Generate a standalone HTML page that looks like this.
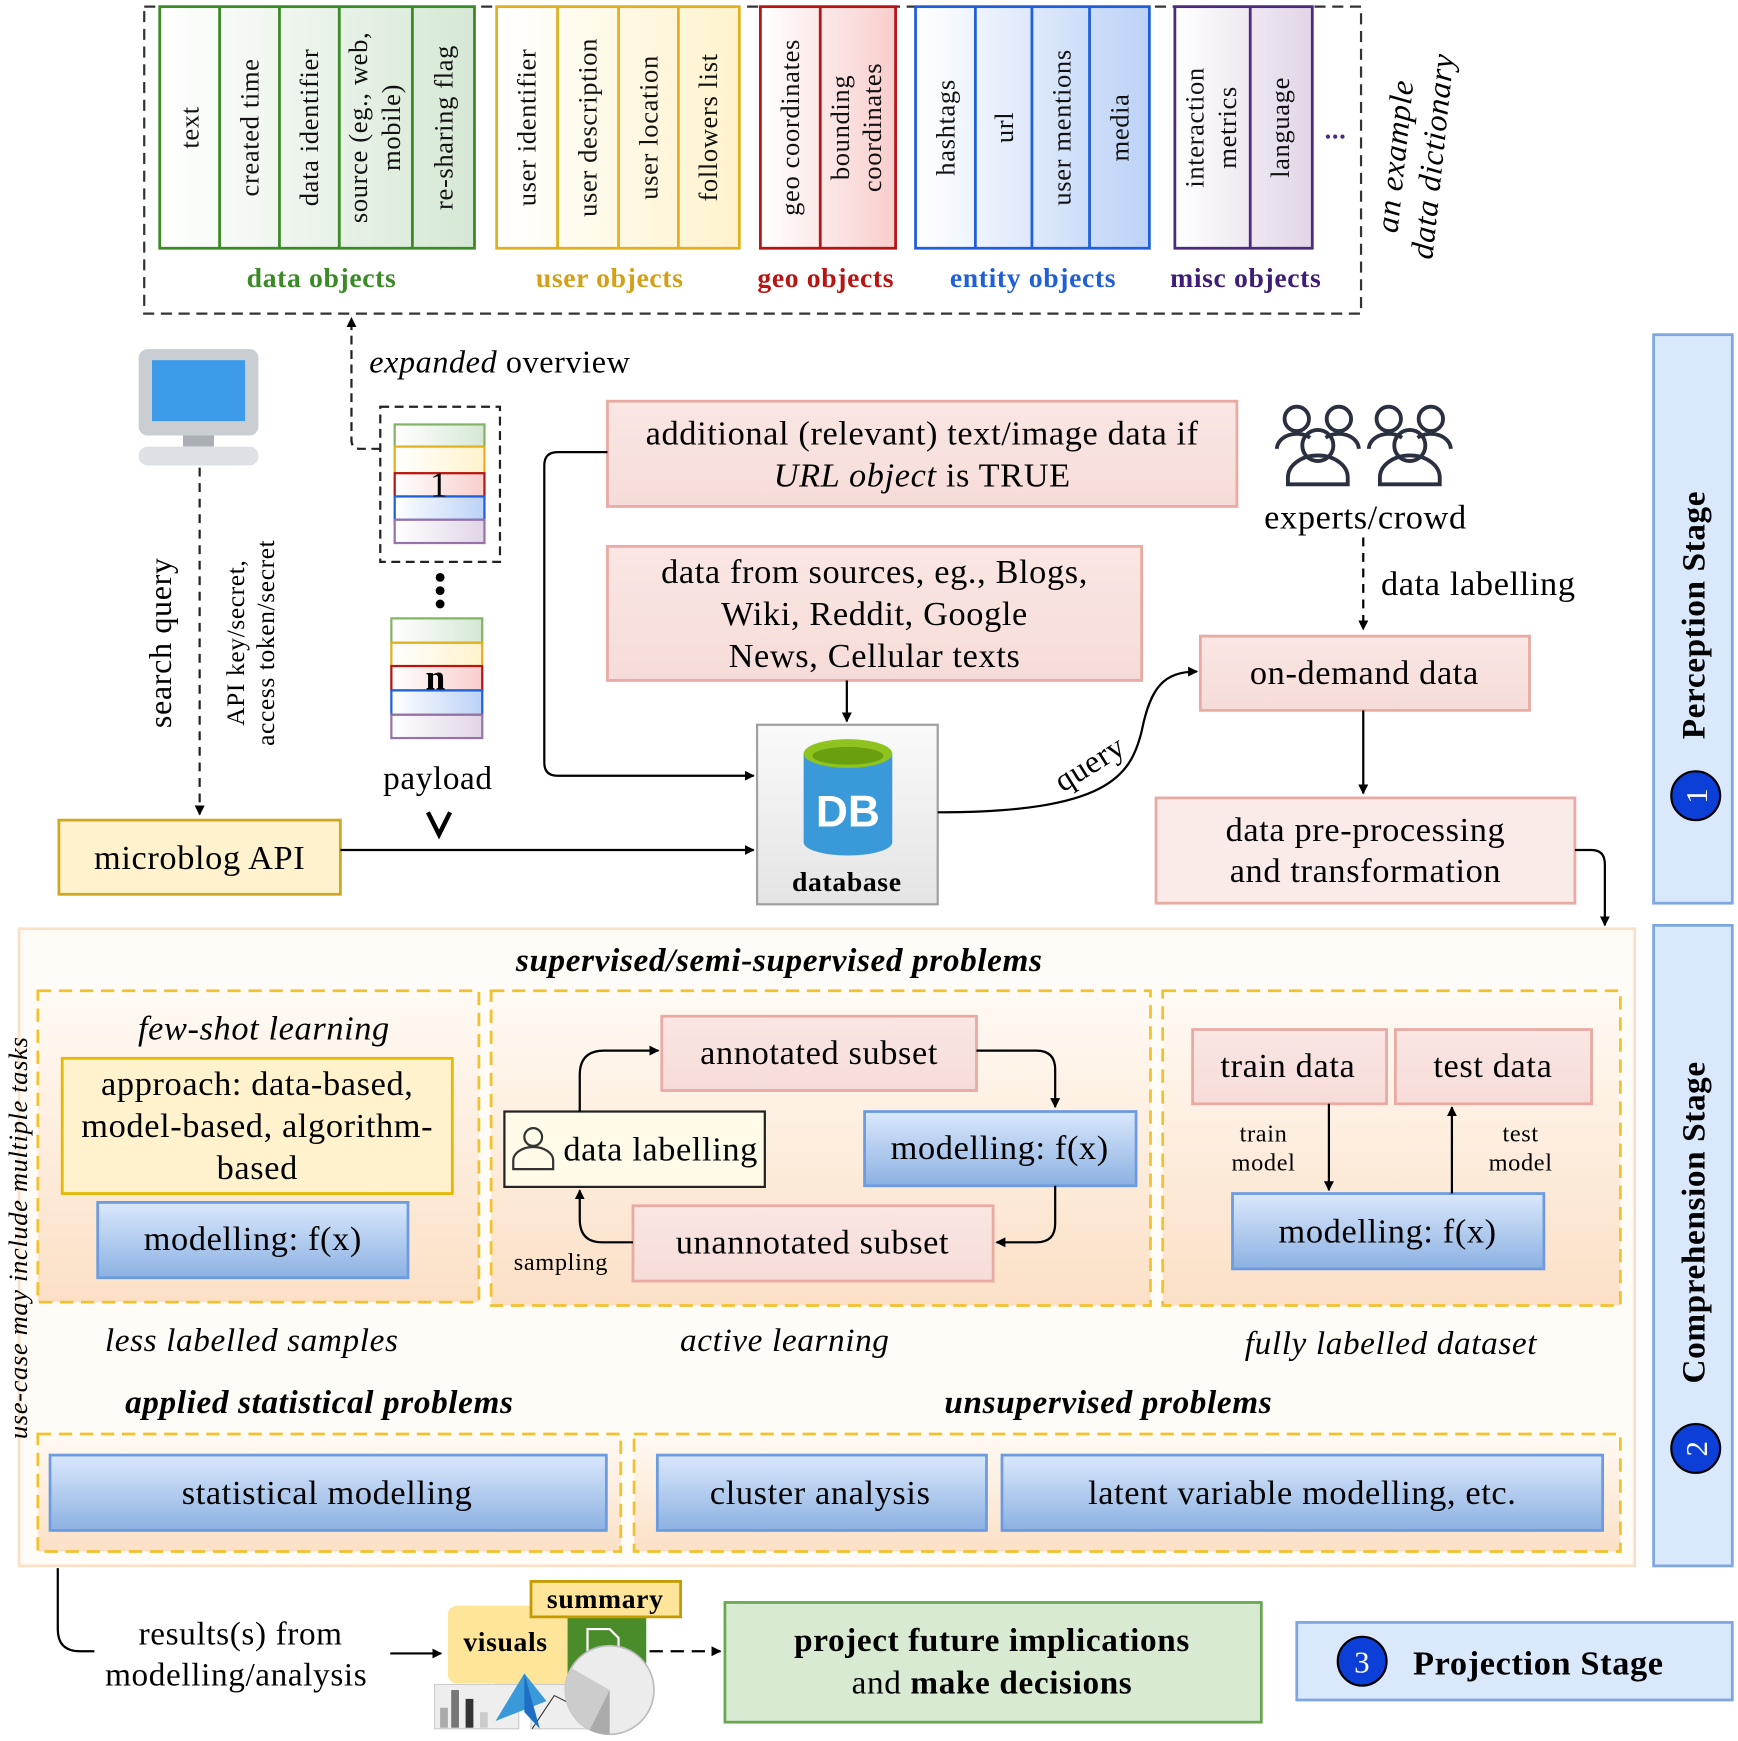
<!DOCTYPE html>
<html><head><meta charset="utf-8"><style>
html,body{margin:0;padding:0;background:#fff;}
svg{display:block;font-family:"Liberation Serif",serif;letter-spacing:0.035em;}
</style></head><body>
<svg width="1738" height="1741" viewBox="0 0 1568 1571" xmlns="http://www.w3.org/2000/svg">
<defs>
<linearGradient id="gG" x1="0" y1="0" x2="1" y2="0"><stop offset="0" stop-color="#fff"/><stop offset="1" stop-color="#d5e8d4"/></linearGradient>
<linearGradient id="gY" x1="0" y1="0" x2="1" y2="0"><stop offset="0" stop-color="#fff"/><stop offset="1" stop-color="#fff2cc"/></linearGradient>
<linearGradient id="gR" x1="0" y1="0" x2="1" y2="0"><stop offset="0" stop-color="#fff"/><stop offset="1" stop-color="#f8cecc"/></linearGradient>
<linearGradient id="gB" x1="0" y1="0" x2="1" y2="0"><stop offset="0" stop-color="#fff"/><stop offset="1" stop-color="#bcd2f7"/></linearGradient>
<linearGradient id="gP" x1="0" y1="0" x2="1" y2="0"><stop offset="0" stop-color="#fff"/><stop offset="1" stop-color="#e1d5e7"/></linearGradient>
<linearGradient id="bl" x1="0" y1="0" x2="0" y2="1"><stop offset="0" stop-color="#dae8fc"/><stop offset="1" stop-color="#8cb1e2"/></linearGradient>
<linearGradient id="pe" x1="0" y1="0" x2="0" y2="1"><stop offset="0" stop-color="#fffaf4"/><stop offset="1" stop-color="#fbe0c6"/></linearGradient>
<linearGradient id="pk" x1="0" y1="0" x2="0" y2="1"><stop offset="0" stop-color="#fae6e3"/><stop offset="1" stop-color="#f6dcd8"/></linearGradient>
<linearGradient id="db" x1="0" y1="0" x2="0" y2="1"><stop offset="0" stop-color="#fafafa"/><stop offset="1" stop-color="#e4e4e4"/></linearGradient>
<marker id="a" viewBox="0 0 10 10" refX="9" refY="5" markerWidth="9" markerHeight="9" orient="auto" markerUnits="userSpaceOnUse"><path d="M0,0L10,5L0,10z" fill="#000"/></marker>
</defs>

<rect x="130" y="6" width="1098" height="277" fill="none" stroke="#333" stroke-width="2" stroke-dasharray="10,6"/>
<g stroke-width="2.5">
<rect x="144" y="6" width="284" height="218" fill="url(#gG)" stroke="#3a8a25"/>
<path d="M198,6V224M252,6V224M306,6V224M372,6V224" stroke="#3a8a25"/>
<rect x="448" y="6" width="219" height="218" fill="url(#gY)" stroke="#e0b020"/>
<path d="M503,6V224M558,6V224M612,6V224" stroke="#e0b020"/>
<rect x="686" y="6" width="122" height="218" fill="url(#gR)" stroke="#b81414"/>
<path d="M740,6V224" stroke="#b81414"/>
<rect x="826" y="6" width="211" height="218" fill="url(#gB)" stroke="#1f5fd8"/>
<path d="M880,6V224M931,6V224M983,6V224" stroke="#1f5fd8"/>
<rect x="1060" y="6" width="124" height="218" fill="url(#gP)" stroke="#4b2a80"/>
<path d="M1128,6V224" stroke="#4b2a80"/>
</g>
<g font-size="24" text-anchor="middle" fill="#111">
<text transform="translate(179,115) rotate(-90)">text</text>
<text transform="translate(233,115) rotate(-90)">created time</text>
<text transform="translate(287,115) rotate(-90)">data identifier</text>
<text transform="translate(331,115) rotate(-90)">source (eg., web,</text>
<text transform="translate(361,115) rotate(-90)">mobile)</text>
<text transform="translate(408,115) rotate(-90)">re-sharing flag</text>
<text transform="translate(483,115) rotate(-90)">user identifier</text>
<text transform="translate(538,115) rotate(-90)">user description</text>
<text transform="translate(593,115) rotate(-90)">user location</text>
<text transform="translate(647,115) rotate(-90)">followers list</text>
<text transform="translate(721,115) rotate(-90)">geo coordinates</text>
<text transform="translate(766,115) rotate(-90)">bounding</text>
<text transform="translate(795,115) rotate(-90)">coordinates</text>
<text transform="translate(861,115) rotate(-90)">hashtags</text>
<text transform="translate(914,115) rotate(-90)">url</text>
<text transform="translate(966,115) rotate(-90)">user mentions</text>
<text transform="translate(1018,115) rotate(-90)">media</text>
<text transform="translate(1086,115) rotate(-90)">interaction</text>
<text transform="translate(1115,115) rotate(-90)">metrics</text>
<text transform="translate(1163,115) rotate(-90)">language</text>
</g>
<text x="1205" y="125" font-size="24" font-weight="bold" fill="#4b2a80" text-anchor="middle">...</text>
<g font-size="25" font-weight="bold" text-anchor="middle">
<text x="290" y="259" fill="#3a8a25">data objects</text>
<text x="550" y="259" fill="#d4a017">user objects</text>
<text x="745" y="259" fill="#b81414">geo objects</text>
<text x="932" y="259" fill="#1f5fd8">entity objects</text>
<text x="1124" y="259" fill="#3d1d75">misc objects</text>
</g>
<g font-size="29" font-style="italic" text-anchor="middle">
<text transform="translate(1268,142) rotate(-84)">an example</text>
<text transform="translate(1302,142) rotate(-84)">data dictionary</text>
</g>

<rect x="125" y="315" width="108" height="78" rx="8" fill="#c9ced3"/>
<rect x="137" y="325" width="84" height="55" fill="#3d9be9"/>
<rect x="165" y="393" width="28" height="10" fill="#a9afb5"/>
<rect x="125" y="403" width="108" height="17" rx="8" fill="#dde1e5"/>
<path d="M180,422V735" stroke="#222" stroke-width="2" stroke-dasharray="8,6" marker-end="url(#a)"/>
<text transform="translate(154,580) rotate(-90)" font-size="29" text-anchor="middle">search query</text>
<text transform="translate(220,580) rotate(-90)" font-size="23" text-anchor="middle">API key/secret,</text>
<text transform="translate(247,580) rotate(-90)" font-size="23" text-anchor="middle">access token/secret</text>

<rect x="343" y="367" width="108" height="140" fill="none" stroke="#222" stroke-width="2" stroke-dasharray="8,5"/>
<g stroke-width="2">
<rect x="356" y="383" width="81" height="20" fill="url(#gG)" stroke="#82b366"/>
<rect x="356" y="403" width="81" height="24" fill="url(#gY)" stroke="#e0b020"/>
<rect x="356" y="427" width="81" height="21" fill="url(#gR)" stroke="#b81414"/>
<rect x="356" y="448" width="81" height="21" fill="url(#gB)" stroke="#1f5fd8"/>
<rect x="356" y="469" width="81" height="21" fill="url(#gP)" stroke="#9673a6"/>
<rect x="353" y="558" width="82" height="22" fill="url(#gG)" stroke="#82b366"/>
<rect x="353" y="580" width="82" height="21" fill="url(#gY)" stroke="#e0b020"/>
<rect x="353" y="601" width="82" height="22" fill="url(#gR)" stroke="#b81414"/>
<rect x="353" y="623" width="82" height="22" fill="url(#gB)" stroke="#1f5fd8"/>
<rect x="353" y="645" width="82" height="21" fill="url(#gP)" stroke="#9673a6"/>
</g>
<text x="396" y="448" font-size="32" text-anchor="middle">1</text>
<text x="393" y="622" font-size="32" font-weight="bold" text-anchor="middle">n</text>
<circle cx="397" cy="521" r="4"/><circle cx="397" cy="533" r="4"/><circle cx="397" cy="545" r="4"/>
<text x="395" y="712" font-size="30" text-anchor="middle">payload</text>
<path d="M386,733L396,753L406,733" fill="none" stroke="#000" stroke-width="4"/>
<path d="M343,405H325Q317,405 317,397V287" fill="none" stroke="#222" stroke-width="2" stroke-dasharray="8,5" marker-end="url(#a)"/>
<text x="333" y="336" font-size="29"><tspan font-style="italic">expanded</tspan> overview</text>

<rect x="53" y="740" width="254" height="67" fill="#fff2cc" stroke="#d0a820" stroke-width="2.5"/>
<text x="180" y="784" font-size="31" text-anchor="middle">microblog API</text>
<path d="M307,767H680" stroke="#000" stroke-width="2" marker-end="url(#a)"/>

<rect x="683" y="654" width="163" height="162" fill="url(#db)" stroke="#a0a0a0" stroke-width="2"/>
<path d="M725,680V760A40,12 0 0 0 805,760V680Z" fill="#3a9ad9"/>
<ellipse cx="765" cy="680" rx="40" ry="13" fill="#8fc31f"/>
<ellipse cx="765" cy="682" rx="32" ry="8" fill="#6aa00f"/>
<text x="765" y="746" font-size="40" font-weight="bold" fill="#fff" text-anchor="middle" font-family="Liberation Sans,sans-serif" letter-spacing="0">DB</text>
<text x="764" y="804" font-size="25" font-weight="bold" text-anchor="middle">database</text>

<rect x="548" y="362" width="568" height="95" fill="url(#pk)" stroke="#e8aaa2" stroke-width="2.5"/>
<text x="832" y="401" font-size="31" text-anchor="middle">additional (relevant) text/image data if</text>
<text x="832" y="439" font-size="31" text-anchor="middle"><tspan font-style="italic">URL object</tspan> is TRUE</text>
<path d="M548,408H503Q491,408 491,420V688Q491,700 503,700H680" fill="none" stroke="#000" stroke-width="2" marker-end="url(#a)"/>
<rect x="548" y="493" width="482" height="121" fill="url(#pk)" stroke="#e8aaa2" stroke-width="2.5"/>
<g font-size="31" text-anchor="middle">
<text x="789" y="526">data from sources, eg., Blogs,</text>
<text x="789" y="564">Wiki,  Reddit, Google</text>
<text x="789" y="602">News, Cellular texts</text>
</g>
<path d="M764,614V651" stroke="#000" stroke-width="2" marker-end="url(#a)"/>

<g fill="none" stroke="#2a3040" stroke-width="3.5">
<circle cx="1170" cy="378" r="11"/><circle cx="1208" cy="378" r="11"/>
<path d="M1152,405a18,14 0 0 1 30,-10M1226,405a18,14 0 0 0 -30,-10"/>
<circle cx="1189" cy="402" r="14"/><path d="M1162,437v-6a27,20 0 0 1 54,0v6z"/>
<circle cx="1253" cy="378" r="11"/><circle cx="1291" cy="378" r="11"/>
<path d="M1235,405a18,14 0 0 1 30,-10M1309,405a18,14 0 0 0 -30,-10"/>
<circle cx="1272" cy="402" r="14"/><path d="M1245,437v-6a27,20 0 0 1 54,0v6z"/>
</g>
<text x="1232" y="477" font-size="31" text-anchor="middle">experts/crowd</text>
<path d="M1230,485V568" stroke="#000" stroke-width="2" stroke-dasharray="8,6" marker-end="url(#a)"/>
<text x="1246" y="537" font-size="31">data labelling</text>
<rect x="1083" y="574" width="297" height="67" fill="url(#pk)" stroke="#e8aaa2" stroke-width="2.5"/>
<text x="1231" y="617" font-size="31" text-anchor="middle">on-demand data</text>
<path d="M846,733C1000,733 1020,700 1030,660C1038,620 1050,606 1080,606" fill="none" stroke="#000" stroke-width="2" marker-end="url(#a)"/>
<text transform="translate(988,697) rotate(-32)" font-size="29" text-anchor="middle">query</text>
<path d="M1230,641V716" stroke="#000" stroke-width="2" marker-end="url(#a)"/>
<rect x="1043" y="720" width="378" height="95" fill="#fbebe8" stroke="#e8aaa2" stroke-width="2.5"/>
<text x="1232" y="759" font-size="31" text-anchor="middle">data pre-processing</text>
<text x="1232" y="796" font-size="31" text-anchor="middle">and transformation</text>
<path d="M1421,767H1436Q1448,767 1448,780V835" fill="none" stroke="#000" stroke-width="2" marker-end="url(#a)"/>

<rect x="1492" y="302" width="71" height="513" fill="#dae8fc" stroke="#7ea6e0" stroke-width="2.5"/>
<text transform="translate(1538,555) rotate(-90)" font-size="30" font-weight="bold" text-anchor="middle">Perception Stage</text>
<circle cx="1530" cy="718" r="22" fill="#0b3fd8" stroke="#000" stroke-width="2"/>
<text transform="translate(1540,718) rotate(-90)" font-size="28" fill="#fff" text-anchor="middle">1</text>
<rect x="1492" y="835" width="71" height="578" fill="#dae8fc" stroke="#7ea6e0" stroke-width="2.5"/>
<text transform="translate(1538,1103) rotate(-90)" font-size="30" font-weight="bold" text-anchor="middle">Comprehension Stage</text>
<circle cx="1530" cy="1307" r="22" fill="#0b3fd8" stroke="#000" stroke-width="2"/>
<text transform="translate(1540,1307) rotate(-90)" font-size="28" fill="#fff" text-anchor="middle">2</text>
<rect x="1170" y="1464" width="393" height="70" fill="#dae8fc" stroke="#7ea6e0" stroke-width="2.5"/>
<circle cx="1229" cy="1499" r="22" fill="#0b3fd8" stroke="#000" stroke-width="2"/>
<text x="1229" y="1509" font-size="28" fill="#fff" text-anchor="middle">3</text>
<text x="1388" y="1511" font-size="31" font-weight="bold" text-anchor="middle">Projection Stage</text>

<rect x="17" y="838" width="1458" height="575" fill="#fffbf6" stroke="#fbe0c8" stroke-width="2.5"/>
<text x="703" y="876" font-size="30" font-weight="bold" font-style="italic" text-anchor="middle">supervised/semi-supervised problems</text>
<g fill="url(#pe)" stroke="#f2c12e" stroke-width="2.5" stroke-dasharray="12,7">
<rect x="34" y="894" width="398" height="281"/>
<rect x="443" y="894" width="595" height="284"/>
<rect x="1049" y="894" width="413" height="284"/>
<rect x="34" y="1294" width="526" height="106"/>
<rect x="572" y="1294" width="890" height="106"/>
</g>
<text transform="translate(24,1117) rotate(-90)" font-size="24" font-style="italic" text-anchor="middle">use-case may include multiple tasks</text>

<text x="238" y="938" font-size="31" font-style="italic" text-anchor="middle">few-shot learning</text>
<rect x="56" y="955" width="352" height="122" fill="#fff2cc" stroke="#e6b800" stroke-width="2.5"/>
<g font-size="31" text-anchor="middle">
<text x="232" y="988">approach: data-based,</text>
<text x="232" y="1026">model-based, algorithm-</text>
<text x="232" y="1064">based</text>
</g>
<g fill="url(#bl)" stroke="#6c9be0" stroke-width="2.5">
<rect x="88" y="1085" width="280" height="68"/>
<rect x="780" y="1003" width="245" height="67"/>
<rect x="1112" y="1077" width="281" height="68"/>
<rect x="45" y="1313" width="502" height="68"/>
<rect x="593" y="1313" width="297" height="68"/>
<rect x="904" y="1313" width="542" height="68"/>
</g>
<g font-size="31" text-anchor="middle">
<text x="228" y="1128">modelling: f(x)</text>
<text x="902" y="1046">modelling: f(x)</text>
<text x="1252" y="1121">modelling: f(x)</text>
<text x="295" y="1357">statistical modelling</text>
<text x="740" y="1357">cluster analysis</text>
<text x="1175" y="1357">latent variable modelling, etc.</text>
</g>

<g fill="url(#pk)" stroke="#e8aaa2" stroke-width="2.5">
<rect x="597" y="917" width="284" height="67"/>
<rect x="571" y="1088" width="325" height="68"/>
<rect x="1076" y="929" width="175" height="67"/>
<rect x="1259" y="929" width="177" height="67"/>
</g>
<g font-size="31" text-anchor="middle">
<text x="739" y="960">annotated subset</text>
<text x="733" y="1131">unannotated subset</text>
<text x="1162" y="972">train data</text>
<text x="1347" y="972">test data</text>
</g>
<rect x="455" y="1003" width="235" height="68" fill="#fffbe8" stroke="#222" stroke-width="2"/>
<g fill="none" stroke="#333" stroke-width="2"><circle cx="481" cy="1026" r="8"/><path d="M463,1055v-8a18,12 0 0 1 36,0v8z"/></g>
<text x="596" y="1047" font-size="31" text-anchor="middle">data labelling</text>
<g fill="none" stroke="#000" stroke-width="2">
<path d="M523,1003V970Q523,948 545,948H594" marker-end="url(#a)"/>
<path d="M881,948H935Q952,948 952,965V999" marker-end="url(#a)"/>
<path d="M952,1070V1104Q952,1121 935,1121H899" marker-end="url(#a)"/>
<path d="M571,1121H543Q523,1121 523,1100V1074" marker-end="url(#a)"/>
<path d="M1199,996V1074" marker-end="url(#a)"/>
<path d="M1310,1077V999" marker-end="url(#a)"/>
</g>
<text x="506" y="1146" font-size="22" text-anchor="middle">sampling</text>
<g font-size="22" text-anchor="middle">
<text x="1140" y="1030">train</text><text x="1140" y="1056">model</text>
<text x="1372" y="1030">test</text><text x="1372" y="1056">model</text>
</g>
<g font-size="30" font-style="italic" text-anchor="middle">
<text x="227" y="1219">less labelled samples</text>
<text x="708" y="1219">active learning</text>
<text x="1255" y="1222">fully labelled dataset</text>
</g>
<g font-size="30" font-weight="bold" font-style="italic" text-anchor="middle">
<text x="288" y="1275">applied statistical problems</text>
<text x="1000" y="1275">unsupervised problems</text>
</g>

<path d="M52,1415V1470Q52,1490 72,1490H85" fill="none" stroke="#000" stroke-width="2"/>
<text x="217" y="1484" font-size="30" text-anchor="middle">results(s) from</text>
<text x="213" y="1521" font-size="30" text-anchor="middle">modelling/analysis</text>
<path d="M352,1492H398" stroke="#000" stroke-width="2" marker-end="url(#a)"/>
<rect x="510" y="1452" width="73" height="80" fill="#4a8c2a"/>
<path d="M530,1470h20l8,8v30h-28z" fill="none" stroke="#fff" stroke-width="2"/>
<rect x="446" y="1450" width="66" height="75" rx="8" fill="#fee599"/>
<rect x="404" y="1449" width="80" height="70" rx="8" fill="#fee599"/>
<text x="456" y="1490" font-size="25" font-weight="bold" text-anchor="middle">visuals</text>
<rect x="479" y="1427" width="135" height="32" fill="#fee599" stroke="#c49a00" stroke-width="2.5"/>
<text x="546" y="1451" font-size="25" font-weight="bold" text-anchor="middle">summary</text>
<rect x="392" y="1520" width="76" height="40" fill="#eee" stroke="#ccc"/>
<rect x="397" y="1541" width="7" height="18" fill="#aaa"/><rect x="407" y="1525" width="7" height="34" fill="#777"/><rect x="420" y="1533" width="7" height="26" fill="#333"/><rect x="433" y="1545" width="7" height="14" fill="#ccc"/>
<rect x="479" y="1520" width="60" height="40" fill="#eee" stroke="#ccc"/>
<path d="M480,1560L500,1530L520,1540" fill="none" stroke="#333" stroke-width="1"/>
<path d="M493,1535L473,1510L447,1553Z" fill="#3a9ad9"/><path d="M473,1510L487,1560L473,1545Z" fill="#1c6fc2"/>
<circle cx="550" cy="1525" r="40" fill="#ececec" stroke="#bbb" stroke-width="1.5"/>
<path d="M550,1525L515,1505A40,40 0 0 0 532,1561Z" fill="#ccc"/><path d="M550,1525L532,1561A40,40 0 0 0 550,1565Z" fill="#aaa"/>
<path d="M586,1490H650" stroke="#000" stroke-width="2" stroke-dasharray="12,7" marker-end="url(#a)"/>
<rect x="654" y="1446" width="484" height="108" fill="#d9ead3" stroke="#6aa84f" stroke-width="2.5"/>
<text x="895" y="1490" font-size="30" font-weight="bold" text-anchor="middle">project future implications</text>
<text x="895" y="1528" font-size="30" text-anchor="middle">and <tspan font-weight="bold">make decisions</tspan></text>
</svg>
</body></html>
